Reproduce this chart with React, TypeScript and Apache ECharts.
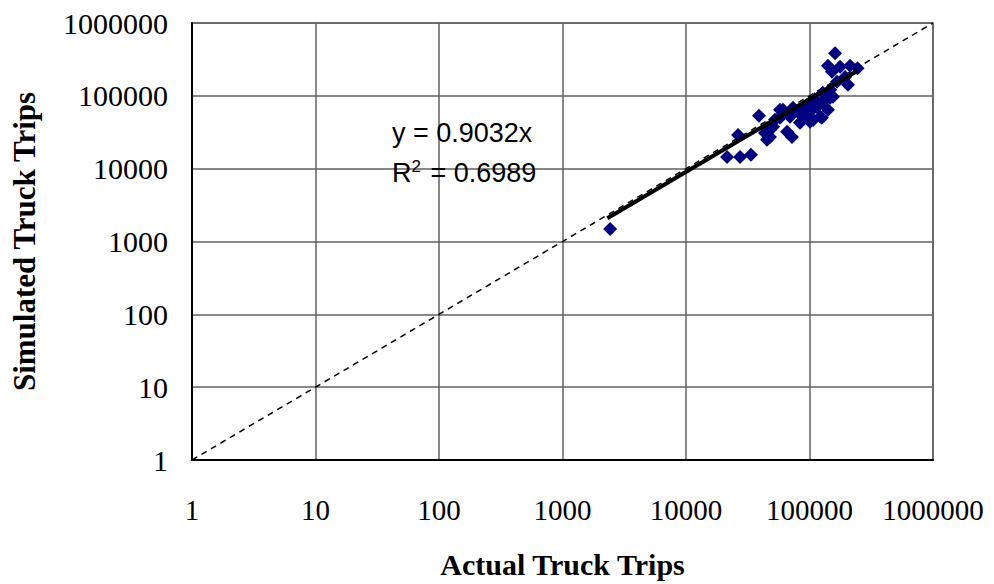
import React, { useEffect, useRef } from "react";
import * as echarts from "echarts";

const actualTrips = [
  2430, 21500, 27400, 33600, 26400, 39000, 45300, 43600, 47900, 45300,
  50700, 52500, 47900, 57700, 57700, 61000, 65800, 72100, 69500, 73500,
  73500, 83800, 86900, 88500, 88500, 95500, 101000, 107000, 101000, 101000,
  115000, 122000, 126000, 128000, 128000, 134000, 141000, 147000, 147000, 155000,
  152000, 141000, 161000, 167000, 177000, 194000, 205000, 213000, 245000, 110000,
  95000, 80000, 60000,
];
const simulatedTrips = [
  1490, 14500, 14500, 15500, 29100, 53100, 24900, 31000, 27300, 36300,
  37500, 46800, 34100, 49900, 64200, 64200, 32000, 27300, 51500, 68400,
  58400, 42600, 46000, 51500, 68400, 54800, 44000, 46500, 60300, 80200,
  70600, 51500, 49900, 83000, 110000, 103000, 64200, 94000, 121000, 97000,
  214000, 258000, 385000, 156000, 250000, 182000, 142000, 258000, 240000, 90000,
  75000, 62000, 55000,
];
const trendSlope = 0.9032;
const rSquared = 0.6989;
const axisMin = 1;
const axisMax = 1000000;

export default function App() {
  const ref = useRef<HTMLDivElement>(null);
  useEffect(() => {
    if (!ref.current) return;
    const chart = echarts.init(ref.current, null, { renderer: "svg" });
    const points = actualTrips.map((x, i) => [x, simulatedTrips[i]]);
    const xMin = Math.min(...actualTrips);
    const xMax = Math.max(...actualTrips);
    const trend = [
      [xMin * 0.95, xMin * 0.95 * trendSlope],
      [xMax, xMax * trendSlope],
    ];
    const diag = [
      [axisMin, axisMin],
      [axisMax, axisMax],
    ];
    const fmt = (v: number) => String(Math.round(v));
    chart.setOption({
      animation: false,
      backgroundColor: "#ffffff",
      grid: { left: 192, right: 61, top: 23, bottom: 124, show: true, borderColor: "#8c8c8c", borderWidth: 2 },
      xAxis: {
        type: "log",
        logBase: 10,
        min: axisMin,
        max: axisMax,
        interval: 1,
        name: "Actual Truck Trips",
        nameLocation: "middle",
        nameGap: 89,
        nameTextStyle: { fontFamily: "Liberation Serif", fontWeight: "bold", fontSize: 30, color: "#000" },
        axisLine: { show: true, lineStyle: { color: "#000", width: 2 } },
        axisTick: { show: false },
        axisLabel: { formatter: fmt, fontFamily: "Liberation Serif", fontSize: 29, color: "#000", margin: 35 },
        splitLine: { show: true, lineStyle: { color: "#606060", width: 1.5 } },
      },
      yAxis: {
        type: "log",
        logBase: 10,
        min: axisMin,
        max: axisMax,
        interval: 1,
        name: "Simulated Truck Trips",
        nameLocation: "middle",
        nameGap: 152,
        nameTextStyle: { fontFamily: "Liberation Serif", fontWeight: "bold", fontSize: 31, color: "#000" },
        axisLine: { show: true, lineStyle: { color: "#000", width: 2 } },
        axisTick: { show: false },
        axisLabel: { formatter: fmt, fontFamily: "Liberation Serif", fontSize: 30, color: "#000", margin: 24 },
        splitLine: { show: true, lineStyle: { color: "#606060", width: 1.5 } },
      },
      series: [
        {
          type: "line",
          data: diag,
          symbol: "none",
          lineStyle: { color: "#000", width: 1.5, type: [6, 5] },
          z: 2,
        },
        {
          type: "scatter",
          data: points,
          symbol: "diamond",
          symbolSize: 14,
          itemStyle: { color: "#000080", opacity: 1 },
          z: 3,
        },
        {
          type: "line",
          data: trend,
          symbol: "none",
          lineStyle: { color: "#000", width: 4 },
          z: 4,
        },
      ],
      graphic: [
        {
          type: "text",
          left: 392,
          top: 119,
          z: 10,
          style: {
            text: `y = ${trendSlope}x`,
            fontFamily: "Liberation Sans",
            fontSize: 27,
            fill: "#000",
          },
        },
        {
          type: "text",
          left: 392,
          top: 158,
          z: 10,
          style: {
            text: `R{sup|2} = ${rSquared}`,
            fontFamily: "Liberation Sans",
            fontSize: 27,
            fill: "#000",
            rich: {
              sup: { fontSize: 17, fontFamily: "Liberation Sans", verticalAlign: "top", padding: [0, 2, 12, 0] },
            },
          },
        },
      ],
    });
    return () => chart.dispose();
  }, []);
  return (
    <div
      ref={ref}
      style={{ position: "fixed", left: 0, top: 0, width: 994, height: 584, background: "#fff" }}
    />
  );
}
